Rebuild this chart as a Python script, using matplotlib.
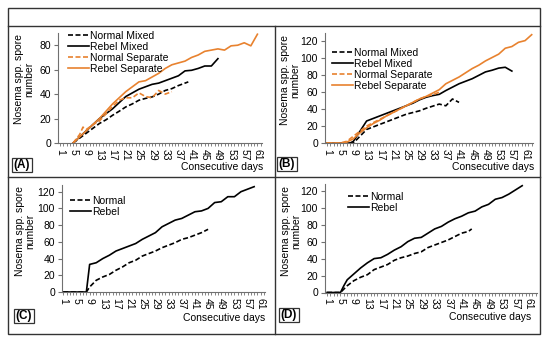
import matplotlib
matplotlib.use("Agg")
import matplotlib.pyplot as plt
from matplotlib.lines import Line2D
from matplotlib.patches import Rectangle

plt.rcParams['font.family'] = ['Liberation Sans', 'DejaVu Sans']

ORANGE = '#E8822F'

# panel A
a_nm_days = [5, 7, 9, 11, 13, 15, 17, 19, 21, 23, 25, 27, 29, 31, 33, 35, 37, 39, 40]
a_nm_vals = [0, 4, 8, 12, 16, 19, 22.7, 26, 29.5, 32, 35, 36.5, 37.7, 40, 43, 44.5, 47, 49, 50]
a_rm_days = [5, 7, 9, 11, 13, 15, 17, 19, 21, 23, 25, 27, 29, 31, 33, 35, 37, 39, 41, 43, 45, 47, 49]
a_rm_vals = [0, 5, 10, 15, 20, 24, 28, 33, 38, 41, 44, 46, 48, 49, 51, 53, 55, 59, 59.5, 61, 63, 63, 69]
a_ns_days = [5, 7, 8, 9, 11, 13, 15, 17, 19, 21, 23, 25, 27, 29, 31, 33, 35]
a_ns_vals = [0, 7, 13, 11, 15, 18, 24, 30, 35, 37, 37, 41, 38, 37, 43, 40, 42]
a_rs_days = [5, 7, 9, 11, 13, 15, 17, 19, 21, 23, 25, 27, 29, 31, 33, 35, 37, 39, 41,
             43, 45, 47, 49, 51, 53, 55, 57, 59, 61]
a_rs_vals = [0, 5, 10, 15, 20, 26, 32, 37, 42, 46, 50, 51, 54, 57, 61, 64, 65.5, 67, 70,
             72, 75, 76, 77, 76, 79.5, 80, 82, 79.5, 89]

# panel B
b_nm_days = [1, 9, 11, 13, 15, 17, 19, 21, 23, 25, 27, 29, 31, 33, 35, 37, 39, 41]
b_nm_vals = [0, 0, 8, 16, 19, 22, 25, 28, 31, 34, 36, 38, 41, 43.5, 46, 44, 52, 48]
b_rm_days = [1, 8, 9, 11, 13, 15, 17, 19, 21, 23, 25, 27, 29, 31, 33, 35, 37, 39, 41,
             43, 45, 47, 49, 51, 53, 55, 57]
b_rm_vals = [0, 0, 2, 14, 26, 29, 32, 35, 38, 41, 44, 47, 51, 54, 56, 57.5, 62, 66, 70,
             73, 76, 80, 84, 86, 88.5, 89.5, 85]
b_ns_days = [1, 5, 7, 9, 11, 13, 15, 17, 19, 21, 23, 25, 27, 29, 31, 33, 35]
b_ns_vals = [0, 0, 2, 8, 14, 20, 24, 28, 32, 36, 40, 44, 48, 52, 55, 57, 60]
b_rs_days = [1, 6, 7, 9, 11, 13, 15, 17, 19, 21, 23, 25, 27, 29, 31, 33, 35, 37, 39, 41,
             43, 45, 47, 49, 51, 53, 55, 57, 59, 61, 63]
b_rs_vals = [0, 0, 1, 5, 12, 18, 23, 27, 32, 36, 40, 44, 48, 52, 55, 59, 63, 70, 74, 78,
             83, 88, 92, 97, 101, 105, 112, 114, 119, 121, 128]

# panel C
c_n_days = [1, 8, 9, 11, 13, 15, 17, 19, 21, 23, 25, 27, 29, 31, 33, 35, 37, 39, 41, 43, 45]
c_n_vals = [0, 0, 6, 14, 18, 21, 26, 30, 35, 38, 43, 46, 49, 53, 56, 59, 63, 65, 68, 71, 75]
c_r_days = [1, 8, 9, 11, 13, 15, 17, 19, 21, 23, 25, 27, 29, 31, 33, 35, 37, 39, 41,
            43, 45, 47, 49, 51, 53, 55, 57, 59]
c_r_vals = [0, 0, 33, 35, 40, 44, 49, 52, 55, 58, 63, 67, 71, 78, 82, 86, 88, 92, 96,
            97, 100, 107, 108, 114, 114, 120, 123, 126]

# panel D
d_n_days = [1, 5, 7, 9, 11, 13, 15, 17, 19, 21, 23, 25, 27, 29, 31, 33, 35, 37, 39, 41, 43, 44]
d_n_vals = [0, 0, 8, 14, 18, 21, 27, 30, 33, 38, 41, 43, 46, 48, 53, 56, 59, 62, 66, 70, 72, 75]
d_r_days = [1, 5, 6, 7, 9, 11, 13, 15, 17, 19, 21, 23, 25, 27, 29, 31, 33, 35, 37, 39,
            41, 43, 45, 47, 49, 51, 53, 55, 57, 59]
d_r_vals = [0, 0, 8, 15, 22, 29, 35, 40, 41, 45, 50, 54, 60, 64, 65, 70, 75, 78, 83, 87,
            90, 94, 96, 101, 104, 110, 112, 116, 121, 126]

day_ticks = list(range(1, 62, 4))
ylabel = "Nosema spp. spore\nnumber"


def px(x, y):
    # pixel (from top-left) to figure fraction
    return x / 550, 1 - y / 337


def setup_axis(ax, xlim, ylim, yticks):
    ax.set_xlim(*xlim)
    ax.set_ylim(*ylim)
    ax.set_xticks(day_ticks)
    ax.set_xticklabels([str(d) for d in day_ticks], rotation=270, fontsize=7.5)
    ax.set_xticks(range(1, int(xlim[1]) + 1), minor=True)
    ax.set_yticks(yticks)
    ax.tick_params(axis='y', labelsize=7.5, length=3, width=0.8, color='#707070', pad=2)
    ax.tick_params(axis='x', which='both', length=2.5, width=0.6, color='#707070', pad=1.5)
    for s in ['top', 'right']:
        ax.spines[s].set_visible(False)
    for s in ['left', 'bottom']:
        ax.spines[s].set_color('#707070')
        ax.spines[s].set_linewidth(0.8)


fig = plt.figure(figsize=(5.5, 3.37), dpi=100)

# axes rectangles from pixel edges
def add_ax(l, r, b, t):
    x0, y0 = px(l, b)
    x1, y1 = px(r, t)
    return fig.add_axes([x0, y0, x1 - x0, y1 - y0])

ax_a = add_ax(58.3, 261.7, 143, 33)
ax_b = add_ax(325, 533, 143, 33)
ax_c = add_ax(62, 265, 292, 185)
ax_d = add_ax(325, 537, 292.5, 184)

setup_axis(ax_a, (0.5, 62.3), (0, 90), [0, 20, 40, 60, 80])
setup_axis(ax_b, (0.4, 63.4), (0, 130), [0, 20, 40, 60, 80, 100, 120])
setup_axis(ax_c, (0.6, 62.3), (0, 128), [0, 20, 40, 60, 80, 100, 120])
setup_axis(ax_d, (0.4, 63.4), (0, 128), [0, 20, 40, 60, 80, 100, 120])

lw = 1.2
dash = (0, (3, 1.5))

ax_a.plot(a_nm_days, a_nm_vals, color='black', ls=dash, lw=lw, label='Normal Mixed')
ax_a.plot(a_rm_days, a_rm_vals, color='black', lw=lw, label='Rebel Mixed')
ax_a.plot(a_ns_days, a_ns_vals, color=ORANGE, ls=dash, lw=lw, label='Normal Separate')
ax_a.plot(a_rs_days, a_rs_vals, color=ORANGE, lw=lw, label='Rebel Separate')

ax_b.plot(b_nm_days, b_nm_vals, color='black', ls=dash, lw=lw, label='Normal Mixed')
ax_b.plot(b_rm_days, b_rm_vals, color='black', lw=lw, label='Rebel Mixed')
ax_b.plot(b_ns_days, b_ns_vals, color=ORANGE, ls=dash, lw=lw, label='Normal Separate')
ax_b.plot(b_rs_days, b_rs_vals, color=ORANGE, lw=lw, label='Rebel Separate')

ax_c.plot(c_n_days, c_n_vals, color='black', ls=dash, lw=lw, label='Normal')
ax_c.plot(c_r_days, c_r_vals, color='black', lw=lw, label='Rebel')

ax_d.plot(d_n_days, d_n_vals, color='black', ls=dash, lw=lw, label='Normal')
ax_d.plot(d_r_days, d_r_vals, color='black', lw=lw, label='Rebel')

leg_kw = dict(loc='upper left', frameon=False, fontsize=7.5, handlelength=2.0,
              handletextpad=0.15, labelspacing=0.1, borderpad=0, borderaxespad=0,
              bbox_transform=fig.transFigure)
ax_a.legend(bbox_to_anchor=px(68, 31), **leg_kw)
ax_b.legend(bbox_to_anchor=px(332, 48), **leg_kw)
ax_c.legend(bbox_to_anchor=px(70, 196), **leg_kw)
ax_d.legend(bbox_to_anchor=px(348, 192), **leg_kw)

# y labels
for (x, y) in [(24, 79), (290, 80), (25, 231), (291, 231)]:
    fig.text(*px(x, y), ylabel, rotation=90, ha='center', va='center',
             fontsize=7.5, linespacing=1.0)

# x labels
for (x, y) in [(263, 167), (534, 167), (265, 318), (531, 317)]:
    fig.text(*px(x, y), "Consecutive days", ha='right', va='center', fontsize=7.5)

# panel letters
for (x, y, s) in [(22, 165, '(A)'), (287, 164, '(B)'), (24, 316, '(C)'), (289, 315, '(D)')]:
    fig.text(*px(x, y), s, ha='center', va='center', fontsize=8.5, fontweight='bold',
             bbox=dict(boxstyle='square,pad=0.12', fc='white', ec='#333333', lw=0.9))

# outer frame and dividers
frame_kw = dict(color='#333333', lw=1.0, transform=fig.transFigure)
x0, y0 = px(8, 334)
x1, y1 = px(540, 8)
fig.add_artist(Rectangle((x0, y0), x1 - x0, y1 - y0, fill=False, ec='#333333', lw=1.0,
                         transform=fig.transFigure))
fig.add_artist(Line2D([x0, x1], [px(0, 26)[1]] * 2, **frame_kw))
fig.add_artist(Line2D([x0, x1], [px(0, 177)[1]] * 2, **frame_kw))
fig.add_artist(Line2D([px(275, 0)[0]] * 2, [y0, px(0, 26)[1]], **frame_kw))

fig.savefig('out.png', dpi=100)
